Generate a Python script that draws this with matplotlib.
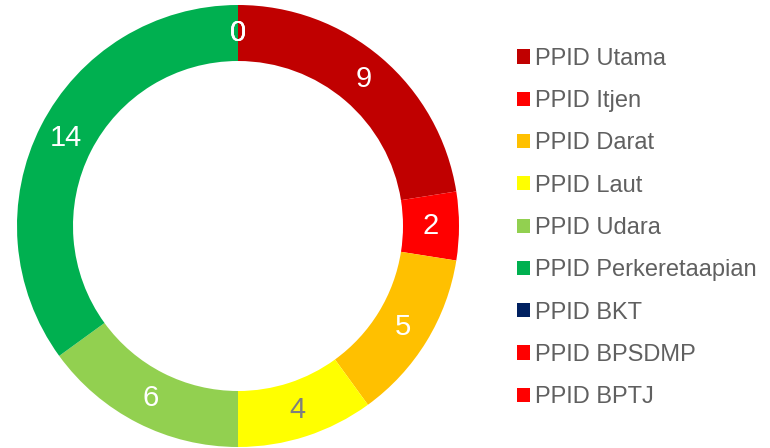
import matplotlib
matplotlib.use('Agg')
from matplotlib import pyplot as plt
import numpy as np

plt.rcParams['font.family'] = ['Liberation Sans', 'DejaVu Sans']

# Data
units = ['PPID Utama', 'PPID Itjen', 'PPID Darat', 'PPID Laut', 'PPID Udara',
         'PPID Perkeretaapian', 'PPID BKT', 'PPID BPSDMP', 'PPID BPTJ']
counts = [9, 2, 5, 4, 6, 14, 0, 0, 0]
colors = ['#C00000', '#FF0000', '#FFC000', '#FFFF00', '#92D050',
          '#00B050', '#002060', '#FF0000', '#FF0000']
label_colors = ['white', 'white', 'white', '#7F7F7F', 'white',
                'white', 'white', 'white', 'white']

W, H = 770, 448
fig = plt.figure(figsize=(W / 100, H / 100), dpi=100)

# donut axes: centre (238, 226) px, outer radius 221 px
cx, cy, r = 238, 226, 221
ax = fig.add_axes([(cx - r) / W, (H - cy - r) / H, 2 * r / W, 2 * r / H])
ring = 56 / r
wedges, _ = ax.pie(counts, colors=colors, startangle=90, counterclock=False,
                   radius=1, wedgeprops=dict(width=ring, linewidth=0))
ax.set_xlim(-1, 1)
ax.set_ylim(-1, 1)
ax.set_aspect('equal')
ax.axis('off')

# data labels at middle of the ring
total = sum(counts)
mid_r = 1 - ring / 2
start = 0
for val, col in zip(counts, label_colors):
    ang = np.deg2rad(90 - (start + val / 2) / total * 360)
    ax.text(mid_r * np.cos(ang), mid_r * np.sin(ang), str(val), color=col,
            fontsize=21, ha='center', va='center')
    start += val

leg = fig.legend(wedges, units, loc='upper left',
                 bbox_to_anchor=(505 / W, 1 - 36 / H), frameon=False,
                 fontsize=17, handlelength=0.55, handleheight=0.55,
                 handletextpad=0.22, labelspacing=0.86, borderpad=0,
                 labelcolor='#606060')

fig.savefig('out.png', dpi=100)
